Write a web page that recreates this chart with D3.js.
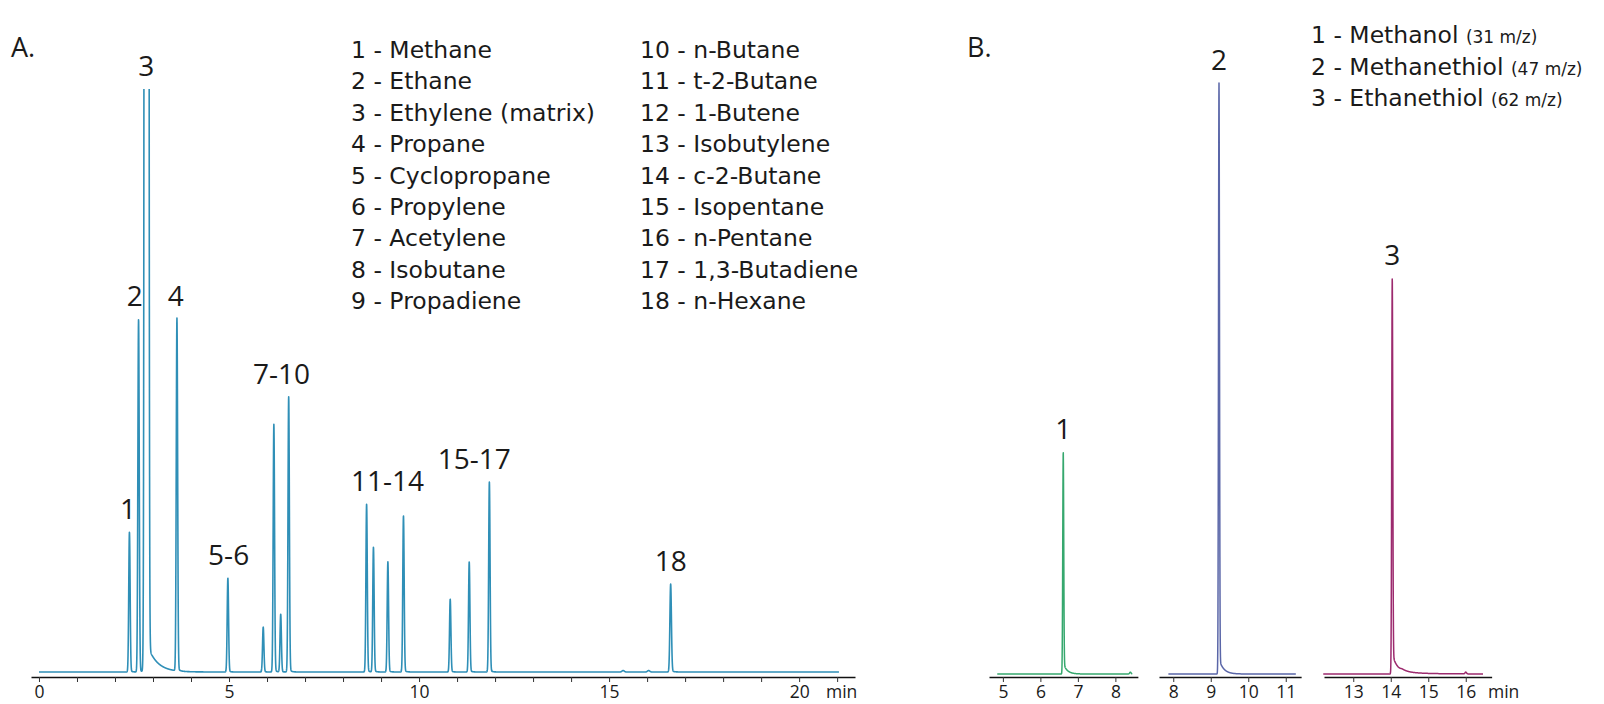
<!DOCTYPE html>
<html>
<head>
<meta charset="utf-8">
<script src="https://cdn.jsdelivr.net/npm/d3@7"></script>
<style>
	body { margin: 0; background: #fff; }
	svg text { font-family: "Open Sans", sans-serif; fill: #1a1a1a; }
	svg text.legend { font-family: "DejaVu Sans", sans-serif; }
</style>
</head>
<body>
<svg id="chart" width="1604" height="704"></svg>
<script>
// Panel A peak table: retention time (min), height (% of full scale), sigma (min)
var aTimes   = [2.38, 2.62, 2.83, 3.63, 4.97, 5.90, 6.18, 6.36, 6.57, 8.62, 8.80, 9.18, 9.59, 10.82, 11.32, 11.85, 16.62, 15.37, 16.04];
var aHeights = [24.0, 60.5, 3400, 60.5, 16.1, 7.7, 42.5, 9.9, 47.2, 28.8, 21.4, 18.9, 26.8, 12.5, 18.9, 32.6, 15.1, 0.25, 0.25];
var aSigmas  = [0.018, 0.018, 0.026, 0.018, 0.018, 0.018, 0.018, 0.018, 0.018, 0.018, 0.018, 0.018, 0.018, 0.018, 0.018, 0.018, 0.02, 0.03, 0.03];
var aTails   = [0.3, 0.6, 5.1, 0.6, 0.2, 0.1, 0.5, 0.1, 0.6, 0.4, 0.3, 0.3, 0.4, 0.2, 0.3, 0.4, 0.3, 0, 0];
var aTaus    = [0.05, 0.05, 0.25, 0.05, 0.05, 0.05, 0.05, 0.05, 0.05, 0.05, 0.05, 0.05, 0.05, 0.05, 0.05, 0.05, 0.06, 0.05, 0.05];
var aRun = [0, 21.05];
var aTicks = d3.range(0, 22);

// Panel A peak labels and which peaks each label sits over
var aLabels = ['1', '2', '3', '4', '5-6', '7-10', '11-14', '15-17', '18'];
var aLabelTimes = [2.34, 2.52, 2.82, 3.60, 4.99, 6.38, 9.17, 11.45, 16.62];
var aLabelPeaks = [[0], [1], [2], [3], [4], [5, 6, 7, 8], [9, 10, 11, 12], [13, 14, 15], [16]];

var aNamesLeft = ['1 - Methane', '2 - Ethane', '3 - Ethylene (matrix)', '4 - Propane', '5 - Cyclopropane',
	'6 - Propylene', '7 - Acetylene', '8 - Isobutane', '9 - Propadiene'];
var aNamesRight = ['10 - n-Butane', '11 - t-2-Butane', '12 - 1-Butene', '13 - Isobutylene', '14 - c-2-Butane',
	'15 - Isopentane', '16 - n-Pentane', '17 - 1,3-Butadiene', '18 - n-Hexane'];

// Panel B: three extracted ion traces
var bNames = ['1 - Methanol', '2 - Methanethiol', '3 - Ethanethiol'];
var bMz = ['(31 m/z)', '(47 m/z)', '(62 m/z)'];
var bPeakTimes   = [[6.61, 8.40], [9.22], [14.04, 14.32, 16.0]];
var bPeakHeights = [[37, 0.3], [98.5], [66, 0.3, 0.3]];
var bPeakSigmas  = [[0.013, 0.02], [0.013], [0.014, 0.06, 0.02]];
var bPeakTails   = [[1.8, 0], [2.5], [3.3, 0.3, 0]];
var bPeakTaus    = [[0.1, 0.05], [0.12], [0.15, 0.6, 0.05]];
var bRuns = [[4.85, 8.45], [7.87, 11.27], [12.2, 16.46]];
var bDomains = [[4.63, 8.6], [7.62, 11.41], [12.22, 16.69]];
var bTicks = [[5, 6, 7, 8], [8, 9, 10, 11], [13, 14, 15, 16]];
var bLabels = ['1', '2', '3'];
var bColors = ['#36a86e', '#5a66a8', '#9c2a6e'];

var colorA = '#2f8fb7';

var svg = d3.select('#chart');

// signal = sum of gaussian peaks, each with an exponential tail after the apex
function signal(t, times, heights, sigmas, tails, taus) {
	var s = 0;
	for (var i = 0; i < times.length; i++) {
		var dt = t - times[i];
		var g = Math.exp(-0.5 * (dt / sigmas[i]) * (dt / sigmas[i]));
		if (dt <= 0 || !tails[i]) s += heights[i] * g;
		else s += (heights[i] - tails[i]) * g + tails[i] * Math.exp(-dt / taus[i]);
	}
	return s;
}

function sample(run, fn) {
	var pts = [];
	for (var t = run[0]; t <= run[1] + 1e-9; t += 0.003) pts.push([t, fn(t)]);
	return pts;
}

function drawAxis(g, x, y0, ticks, labelled) {
	var axis = d3.axisBottom(x)
		.tickValues(ticks)
		.tickSize(5)
		.tickSizeOuter(0)
		.tickPadding(4)
		.tickFormat(function(d) { return labelled(d) ? d : ''; });
	var ax = g.append('g')
		.attr('transform', 'translate(0,' + y0 + ')')
		.call(axis);
	ax.select('.domain').attr('stroke', '#111').attr('stroke-width', 1.4);
	ax.selectAll('.tick line').attr('stroke', '#333').attr('stroke-width', 1);
	ax.selectAll('.tick text')
		.attr('font-size', 17.5)
		.attr('font-family', '"Open Sans", sans-serif')
		.attr('fill', '#1a1a1a');
	return ax;
}

// ---------- Panel A ----------
var xA = d3.scaleLinear().domain([-0.21, 21.47]).range([31, 855]);
var yA = d3.scaleLinear().domain([0, 100]).range([672, 89]);

svg.append('defs').append('clipPath').attr('id', 'clipA')
	.append('rect')
	.attr('x', xA.range()[0]).attr('y', yA(100))
	.attr('width', xA.range()[1] - xA.range()[0])
	.attr('height', yA(0) - yA(100) + 10);

var gA = svg.append('g');
var traceA = sample(aRun, function(t) { return signal(t, aTimes, aHeights, aSigmas, aTails, aTaus); });
var lineA = d3.line().x(function(d) { return xA(d[0]); }).y(function(d) { return yA(d[1]); });

gA.append('path')
	.datum(traceA)
	.attr('clip-path', 'url(#clipA)')
	.attr('fill', 'none')
	.attr('stroke', colorA)
	.attr('stroke-width', 1.6)
	.attr('stroke-linejoin', 'round')
	.attr('d', lineA);

drawAxis(gA, xA, 677, aTicks, function(d) { return d % 5 === 0; });
gA.append('text').attr('x', 826).attr('y', 698).attr('font-size', 17.5).text('min');

gA.selectAll('.plabel')
	.data(aLabels)
	.enter().append('text')
	.attr('class', 'plabel')
	.attr('text-anchor', 'middle')
	.attr('font-size', 28)
	.attr('x', function(d, i) { return xA(aLabelTimes[i]); })
	.attr('y', function(d, i) {
		var top = d3.max(aLabelPeaks[i], function(p) { return Math.min(aHeights[p], 100); });
		return yA(top) - 13;
	})
	.text(function(d) { return d; });

gA.append('text').attr('x', 11).attr('y', 57).attr('font-size', 27).text('A.');

gA.selectAll('.legL')
	.data(aNamesLeft)
	.enter().append('text')
	.attr('class', 'legend')
	.attr('font-size', 23.5)
	.attr('x', 351)
	.attr('y', function(d, i) { return 58 + i * 31.4; })
	.text(function(d) { return d; });

gA.selectAll('.legR')
	.data(aNamesRight)
	.enter().append('text')
	.attr('class', 'legend')
	.attr('font-size', 23.5)
	.attr('x', 640)
	.attr('y', function(d, i) { return 58 + i * 31.4; })
	.text(function(d) { return d; });

// ---------- Panel B ----------
var yB = d3.scaleLinear().domain([0, 100]).range([674, 74]);
var bStarts = [989, 1159, 1324];
var pxPerMin = 37.5;

var gB = svg.append('g');
bNames.forEach(function(name, k) {
	var x = d3.scaleLinear().domain(bDomains[k])
		.range([bStarts[k], bStarts[k] + (bDomains[k][1] - bDomains[k][0]) * pxPerMin]);
	var trace = sample(bRuns[k], function(t) {
		return signal(t, bPeakTimes[k], bPeakHeights[k], bPeakSigmas[k], bPeakTails[k], bPeakTaus[k]);
	});
	gB.append('path')
		.datum(trace)
		.attr('fill', 'none')
		.attr('stroke', bColors[k])
		.attr('stroke-width', 1.5)
		.attr('stroke-linejoin', 'round')
		.attr('d', d3.line().x(function(d) { return x(d[0]); }).y(function(d) { return yB(d[1]); }));

	drawAxis(gB, x, 677, bTicks[k], function() { return true; });

	gB.append('text')
		.attr('text-anchor', 'middle')
		.attr('font-size', 28)
		.attr('x', x(bPeakTimes[k][0]))
		.attr('y', yB(bPeakHeights[k][0]) - 13)
		.text(bLabels[k]);
});
gB.append('text').attr('x', 1488).attr('y', 698).attr('font-size', 17.5).text('min');

gB.append('text').attr('x', 967).attr('y', 57).attr('font-size', 27).text('B.');

var legB = gB.selectAll('.legB')
	.data(bNames)
	.enter().append('text')
	.attr('class', 'legend')
	.attr('font-size', 23.5)
	.attr('x', 1311)
	.attr('y', function(d, i) { return 43 + i * 31.5; });
legB.append('tspan').text(function(d) { return d + ' '; });
legB.append('tspan').attr('font-size', 17).text(function(d, i) { return bMz[i]; });
</script>
</body>
</html>
